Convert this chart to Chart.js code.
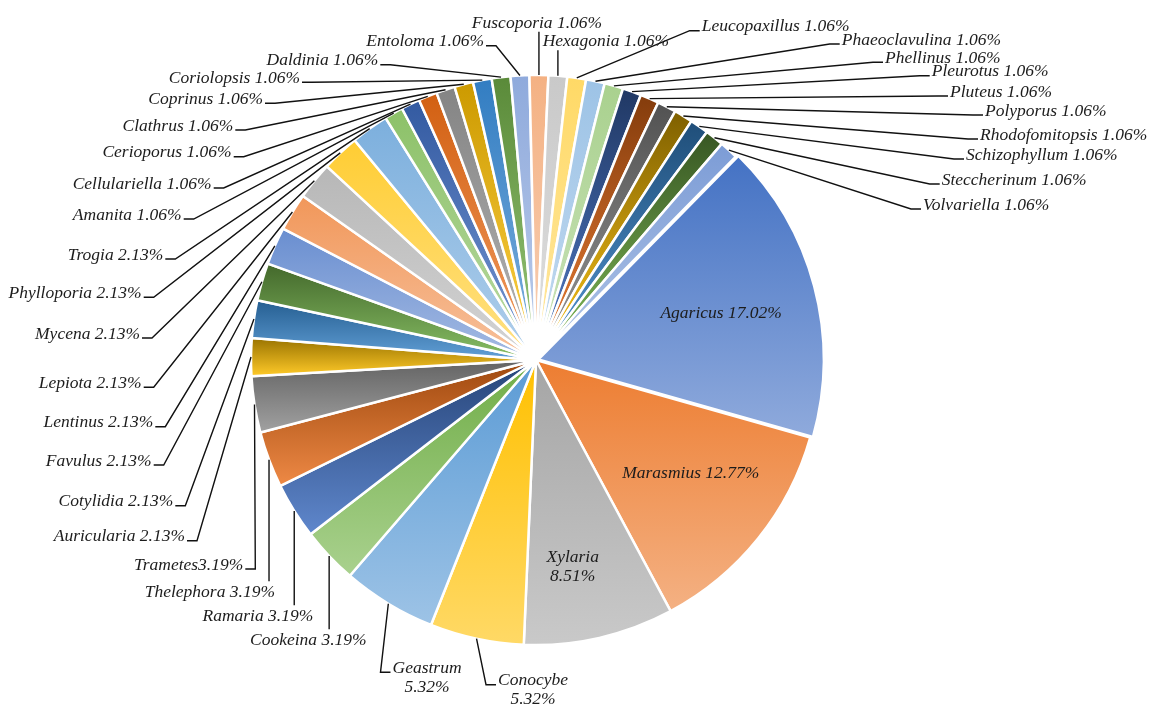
<!DOCTYPE html>
<html>
<head>
<meta charset="utf-8">
<script src="https://cdn.jsdelivr.net/npm/chart.js@4.4.1/dist/chart.umd.min.js"></script>
<style>
html,body{margin:0;padding:0;background:#ffffff;}
#wrap{width:1154px;height:720px;position:relative;}
</style>
</head>
<body>
<div id="wrap"><canvas id="c" width="1154" height="720"></canvas></div>
<script>
// ---------------- DATA ----------------
const genera = ['Agaricus','Marasmius','Xylaria','Conocybe','Geastrum','Cookeina','Ramaria','Thelephora','Trametes',
  'Auricularia','Cotylidia','Favulus','Lentinus','Lepiota','Mycena','Phylloporia','Trogia',
  'Amanita','Cellulariella','Cerioporus','Clathrus','Coprinus','Coriolopsis','Daldinia','Entoloma','Fuscoporia',
  'Hexagonia','Leucopaxillus','Phaeoclavulina','Phellinus','Pleurotus','Pluteus','Polyporus','Rhodofomitopsis',
  'Schizophyllum','Steccherinum','Volvariella'];
const percentages = [17.02,12.77,8.51,5.32,5.32,3.19,3.19,3.19,3.19,
  2.13,2.13,2.13,2.13,2.13,2.13,2.13,2.13,
  1.06,1.06,1.06,1.06,1.06,1.06,1.06,1.06,1.06,
  1.06,1.06,1.06,1.06,1.06,1.06,1.06,1.06,
  1.06,1.06,1.06];
// labels written without a space between name and value
const joinedLabels = ['Trametes'];
// labels split over two lines
const twoLineLabels = ['Xylaria','Geastrum','Conocybe'];

// ---------------- STYLE ----------------
const baseColors = ['#4472C4','#ED7D31','#A5A5A5','#FFC000','#5B9BD5','#70AD47',
  '#264478','#9E480E','#636363','#997300','#255E91','#43682B',
  '#698ED0','#F1975A','#B7B7B7','#FFCD33','#7CAFDD','#8CC168',
  '#335AA1','#D26012','#848484','#CC9A00','#327DC2','#5A8A39',
  '#8FAADC','#F4B183','#C9C9C9','#FFD966','#9DC3E6','#A9D18E',
  '#203864','#843C0C','#525252','#7F6000','#1F4E79','#385723',
  '#7C9CD6'];
const explode = {Agaricus: 10};

// label layout (canvas px): align = which edge x refers to
const labelLayout = {
  Agaricus:{inside:0.635, da:0.75},
  Marasmius:{inside:0.673, da:-2.6},
  Xylaria:{inside:0.737, da:2.8},
  Conocybe:{align:'center', x:533, y:680.7},
  Geastrum:{align:'center', x:427, y:668.3},
  Cookeina:{align:'right', x:366.7, y:640.7},
  Ramaria:{align:'right', x:313.3, y:616.7},
  Thelephora:{align:'right', x:275, y:592.7},
  Trametes:{align:'right', x:243.3, y:565},
  Auricularia:{align:'right', x:185, y:536.7},
  Cotylidia:{align:'right', x:173.3, y:501.7},
  Favulus:{align:'right', x:151.7, y:461},
  Lentinus:{align:'right', x:153.3, y:422.7},
  Lepiota:{align:'right', x:141.7, y:383.3},
  Mycena:{align:'right', x:140, y:334},
  Phylloporia:{align:'right', x:141.7, y:293.3},
  Trogia:{align:'right', x:163.3, y:255},
  Amanita:{align:'right', x:181.7, y:215},
  Cellulariella:{align:'right', x:211.7, y:184},
  Cerioporus:{align:'right', x:231.7, y:152.7},
  Clathrus:{align:'right', x:233.3, y:126},
  Coprinus:{align:'right', x:263, y:99.3},
  Coriolopsis:{align:'right', x:300, y:78.3},
  Daldinia:{align:'right', x:378.3, y:60.7},
  Entoloma:{align:'right', x:484, y:41.7},
  Fuscoporia:{align:'center', x:537, y:23.3},
  Hexagonia:{align:'left', x:542.7, y:41.7},
  Leucopaxillus:{align:'left', x:701.7, y:26.7},
  Phaeoclavulina:{align:'left', x:841.7, y:40},
  Phellinus:{align:'left', x:885, y:58.3},
  Pleurotus:{align:'left', x:931.7, y:71.7},
  Pluteus:{align:'left', x:950, y:92},
  Polyporus:{align:'left', x:985, y:111},
  Rhodofomitopsis:{align:'left', x:980, y:135},
  Schizophyllum:{align:'left', x:966, y:155},
  Steccherinum:{align:'left', x:941.7, y:180},
  Volvariella:{align:'left', x:923, y:205}
};

const FONT = 'italic 17.5px "Liberation Serif", "Times New Roman", serif';
const LINE_H = 19;

function hexToRgb(h){h=h.replace('#','');return [parseInt(h.slice(0,2),16),parseInt(h.slice(2,4),16),parseInt(h.slice(4,6),16)];}
function rgbToHsl(r,g,b){r/=255;g/=255;b/=255;const mx=Math.max(r,g,b),mn=Math.min(r,g,b);let h=0,s=0;const l=(mx+mn)/2;
  if(mx!==mn){const d=mx-mn;s=l>0.5?d/(2-mx-mn):d/(mx+mn);
    if(mx===r)h=(g-b)/d+(g<b?6:0);else if(mx===g)h=(b-r)/d+2;else h=(r-g)/d+4;h/=6;}
  return [h,s,l];}
function hslToRgb(h,s,l){if(s===0){const v=Math.round(l*255);return [v,v,v];}
  const hue=(p,q,t)=>{if(t<0)t+=1;if(t>1)t-=1;if(t<1/6)return p+(q-p)*6*t;if(t<1/2)return q;if(t<2/3)return p+(q-p)*(2/3-t)*6;return p;};
  const q=l<0.5?l*(1+s):l+s-l*s,p=2*l-q;
  return [Math.round(hue(p,q,h+1/3)*255),Math.round(hue(p,q,h)*255),Math.round(hue(p,q,h-1/3)*255)];}
function tint(hex){const [r,g,b]=hexToRgb(hex);const [h,s,l]=rgbToHsl(r,g,b);const c=hslToRgb(h,s,l*0.6+0.4);return `rgb(${c[0]},${c[1]},${c[2]})`;}

function labelLines(i){
  const name = genera[i];
  const val = percentages[i].toFixed(2) + '%';
  if (twoLineLabels.includes(name)) return [name, val];
  return [name + (joinedLabels.includes(name) ? '' : ' ') + val];
}

const TAU = Math.PI*2;
function containsAngle(s,e,a){const k=Math.ceil((s-a)/TAU);const a2=a+k*TAU;return a2>=s&&a2<=e;}

const gradientPlugin = {
  id:'sliceGradient',
  beforeDatasetsDraw(chart){
    const ctx = chart.ctx;
    const meta = chart.getDatasetMeta(0);
    meta.data.forEach((arc,i)=>{
      const p = arc.getProps(['x','y','startAngle','endAngle','outerRadius'], true);
      const R = p.outerRadius;
      const ys=[p.y, p.y+R*Math.sin(p.startAngle), p.y+R*Math.sin(p.endAngle)];
      if (containsAngle(p.startAngle,p.endAngle,Math.PI/2)) ys.push(p.y+R);
      if (containsAngle(p.startAngle,p.endAngle,-Math.PI/2)) ys.push(p.y-R);
      const top=Math.min(...ys), bot=Math.max(...ys);
      const g = ctx.createLinearGradient(0,top,0,bot+0.01);
      g.addColorStop(0, baseColors[i]);
      g.addColorStop(1, tint(baseColors[i]));
      arc.options.backgroundColor = g;
    });
  }
};

const labelPlugin = {
  id:'pieLabels',
  afterDatasetsDraw(chart){
    const ctx = chart.ctx;
    const meta = chart.getDatasetMeta(0);
    ctx.save();
    ctx.font = FONT;
    ctx.fillStyle = '#1c1c1c';
    ctx.strokeStyle = '#111111';
    ctx.lineWidth = 1.4;
    ctx.textBaseline = 'middle';
    ctx.textAlign = 'center';
    meta.data.forEach((arc,i)=>{
      const name = genera[i];
      const L = labelLayout[name];
      const p = arc.getProps(['x','y','startAngle','endAngle','outerRadius'], true);
      const mid = (p.startAngle+p.endAngle)/2;
      const off = arc.options.offset || 0;
      const cx = p.x + Math.cos(mid)*off, cy = p.y + Math.sin(mid)*off;
      const lines = labelLines(i);
      if (L.inside){
        const a = mid + (L.da||0)*Math.PI/180;
        const lx = cx + Math.cos(a)*p.outerRadius*L.inside;
        const ly = cy + Math.sin(a)*p.outerRadius*L.inside;
        const y0 = ly - (lines.length-1)*LINE_H/2;
        lines.forEach((t,k)=>ctx.fillText(t, lx, y0 + k*LINE_H));
        return;
      }
      const w = Math.max(...lines.map(t=>ctx.measureText(t).width));
      let left;
      if (L.align==='right') left = L.x - w; else if (L.align==='left') left = L.x; else left = L.x - w/2;
      lines.forEach((t,k)=>ctx.fillText(t, left + w/2, L.y + k*LINE_H));
      const topY = L.y - 11.5;
      const botY = L.y + (lines.length-1)*LINE_H + 8.5;
      const ax = cx + Math.cos(mid)*p.outerRadius;
      const ay = cy + Math.sin(mid)*p.outerRadius;
      const pad = 2, elbow = 10, py = L.y + 4;
      ctx.beginPath();
      ctx.moveTo(ax, ay);
      if (ax >= left && ax <= left + w) {
        ctx.lineTo(ax, ay < L.y ? topY : botY);
      } else if (ax > left + w) {
        ctx.lineTo(left + w + pad + elbow, py);
        ctx.lineTo(left + w + pad, py);
      } else {
        ctx.lineTo(left - pad - elbow, py);
        ctx.lineTo(left - pad, py);
      }
      ctx.stroke();
    });
    ctx.restore();
  }
};

new Chart(document.getElementById('c'), {
  type:'pie',
  data:{
    labels: genera,
    datasets:[{
      data: percentages,
      backgroundColor: (c)=>baseColors[c.dataIndex],
      borderColor:'#ffffff',
      borderWidth:2.5,
      offset: genera.map(g=>explode[g]||0),
      hoverOffset:0
    }]
  },
  options:{
    responsive:false,
    maintainAspectRatio:false,
    devicePixelRatio:1,
    animation:false,
    rotation:44.5,
    radius:285,
    layout:{padding:{left:100,right:182,top:60,bottom:60}},
    plugins:{legend:{display:false},tooltip:{enabled:false}},
    events:[]
  },
  plugins:[gradientPlugin,labelPlugin]
});
</script>
</body>
</html>
